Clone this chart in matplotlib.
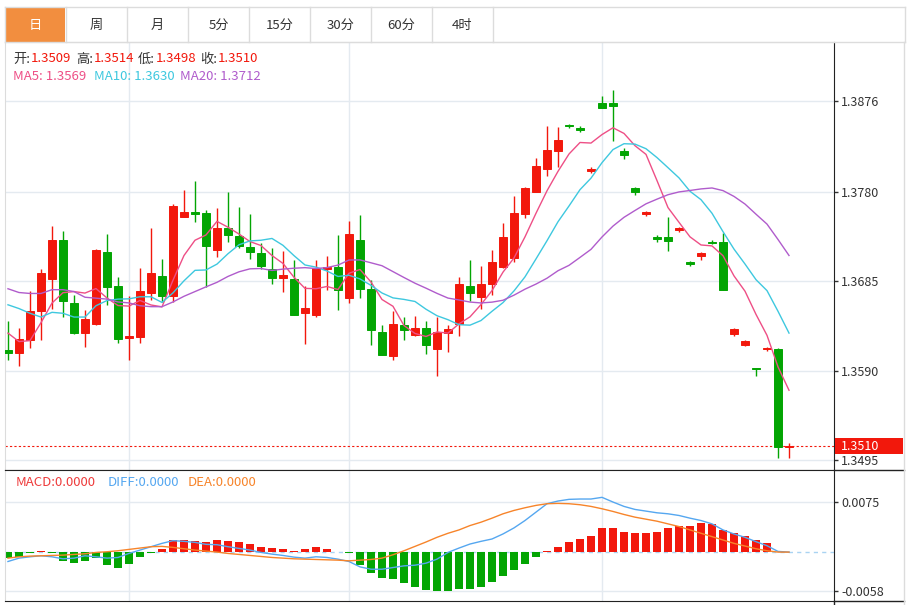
import matplotlib.pyplot as plt
import numpy as np
import pandas as pd
import matplotlib.transforms as mtransforms
from matplotlib.patches import Rectangle
from matplotlib.lines import Line2D

plt.rcParams['font.family'] = ['Noto Sans CJK SC', 'DejaVu Sans']

# daily candles
opens = [1.3612, 1.3609, 1.3623, 1.3653, 1.3687, 1.3729, 1.3662, 1.3630, 1.3640, 1.3716,
         1.3680, 1.3625, 1.3626, 1.3673, 1.3690, 1.3669, 1.3753, 1.3758, 1.3757, 1.3718,
         1.3741, 1.3733, 1.3721, 1.3715, 1.3698, 1.3688, 1.3687, 1.3651, 1.3649, 1.3698,
         1.3700, 1.3667, 1.3729, 1.3677, 1.3631, 1.3606, 1.3639, 1.3628, 1.3635, 1.3613,
         1.3630, 1.3640, 1.3680, 1.3668, 1.3682, 1.3700, 1.3710, 1.3756, 1.3780, 1.3804,
         1.3823, 1.3851, 1.3847, 1.3802, 1.3874, 1.3874, 1.3823, 1.3784, 1.3756, 1.3732,
         1.3732, 1.3739, 1.3705, 1.3712, 1.3727, 1.3727, 1.3629, 1.3617, 1.3593, 1.3613,
         1.3613, 1.3509]
highs = [1.3643, 1.3635, 1.3675, 1.3698, 1.3744, 1.3738, 1.3670, 1.3654, 1.3719, 1.3735,
         1.3689, 1.3669, 1.3699, 1.3741, 1.3709, 1.3767, 1.3782, 1.3791, 1.3760, 1.3763,
         1.3779, 1.3764, 1.3756, 1.3725, 1.3720, 1.3717, 1.3707, 1.3680, 1.3707, 1.3712,
         1.3734, 1.3749, 1.3755, 1.3686, 1.3639, 1.3653, 1.3647, 1.3648, 1.3643, 1.3647,
         1.3639, 1.3689, 1.3707, 1.3701, 1.3718, 1.3747, 1.3775, 1.3785, 1.3816, 1.3849,
         1.3848, 1.3852, 1.3849, 1.3806, 1.3881, 1.3888, 1.3826, 1.3785, 1.3759, 1.3734,
         1.3753, 1.3742, 1.3706, 1.3716, 1.3729, 1.3736, 1.3635, 1.3623, 1.3593, 1.3615,
         1.3614, 1.3514]
lows = [1.3601, 1.3595, 1.3614, 1.3623, 1.3656, 1.3647, 1.3629, 1.3615, 1.3639, 1.3660,
        1.3619, 1.3602, 1.3620, 1.3665, 1.3663, 1.3663, 1.3753, 1.3748, 1.3679, 1.3711,
        1.3727, 1.3720, 1.3708, 1.3698, 1.3682, 1.3674, 1.3649, 1.3618, 1.3647, 1.3676,
        1.3655, 1.3662, 1.3667, 1.3617, 1.3607, 1.3602, 1.3623, 1.3627, 1.3608, 1.3585,
        1.3610, 1.3627, 1.3664, 1.3656, 1.3670, 1.3699, 1.3705, 1.3752, 1.3780, 1.3797,
        1.3806, 1.3847, 1.3843, 1.3800, 1.3869, 1.3834, 1.3815, 1.3776, 1.3754, 1.3727,
        1.3717, 1.3737, 1.3701, 1.3707, 1.3724, 1.3676, 1.3627, 1.3616, 1.3585, 1.3611,
        1.3498, 1.3498]
closes = [1.3609, 1.3624, 1.3653, 1.3694, 1.3729, 1.3664, 1.3630, 1.3645, 1.3718, 1.3679,
          1.3624, 1.3627, 1.3675, 1.3694, 1.3669, 1.3765, 1.3758, 1.3756, 1.3722, 1.3741,
          1.3734, 1.3722, 1.3716, 1.3701, 1.3688, 1.3692, 1.3649, 1.3657, 1.3699, 1.3700,
          1.3676, 1.3735, 1.3677, 1.3633, 1.3607, 1.3640, 1.3633, 1.3635, 1.3617, 1.3631,
          1.3634, 1.3682, 1.3672, 1.3682, 1.3705, 1.3732, 1.3757, 1.3784, 1.3807, 1.3824,
          1.3835, 1.3849, 1.3845, 1.3804, 1.3869, 1.3871, 1.3819, 1.3780, 1.3758, 1.3730,
          1.3728, 1.3741, 1.3703, 1.3715, 1.3725, 1.3676, 1.3634, 1.3622, 1.3592, 1.3614,
          1.3509, 1.3510]

# MA values at the left edge (they depend on days before the window)
ma5_head = [1.3630, 1.3621, 1.3622, 1.3641]
ma10_head = [1.3660, 1.3656, 1.3651, 1.3647, 1.3652, 1.3651, 1.3647, 1.3647, 1.3659]
ma20_head = [1.3677, 1.3673, 1.3672, 1.3672, 1.3676, 1.3676, 1.3674, 1.3668, 1.3667, 1.3666,
             1.3663, 1.3662, 1.3659, 1.3658, 1.3658, 1.3663, 1.3669, 1.3674, 1.3679]

macd_bar = [-0.0009, -0.0008, -0.00015, 0.0001, -0.00015, -0.0013, -0.00165, -0.0013, -0.0009, -0.0019,
            -0.0023, -0.0017, -0.0007, -0.00015, 0.0004, 0.0018, 0.0018, 0.0017, 0.00155, 0.0018,
            0.0016, 0.00145, 0.00115, 0.0008, 0.00055, 0.0004, 0.0001, 0.0004, 0.0008, 0.00045,
            0.0, -0.00015, -0.0019, -0.00305, -0.0038, -0.00395, -0.00465, -0.0052, -0.0057, -0.0058,
            -0.0058, -0.00545, -0.00555, -0.00515, -0.0044, -0.00355, -0.00265, -0.0017, -0.0008, 0.00015,
            0.0008, 0.00155, 0.00195, 0.00235, 0.00355, 0.00355, 0.003, 0.0028, 0.0028, 0.003,
            0.00355, 0.00395, 0.00395, 0.00435, 0.0042, 0.00335, 0.0028, 0.00235, 0.0018, 0.0013,
            0.0, 0.0]
diff = [-0.0014, -0.0009, -0.0007, -0.00055, -0.0007, -0.0010, -0.0009, -0.00055, -0.0007, -0.0009,
        -0.0008, -0.0002, 0.0003, 0.0008, 0.0013, 0.0017, 0.0016, 0.00145, 0.00115, 0.0011,
        0.0008, 0.00055, 0.0003, -0.00005, -0.0003, -0.0005, -0.00075, -0.0009, -0.0007, -0.0008,
        -0.00105, -0.0014, -0.0022, -0.00255, -0.00255, -0.0023, -0.00205, -0.00195, -0.00165, -0.00105,
        -0.00005, 0.0006, 0.0012, 0.0016, 0.00195, 0.0027, 0.0036, 0.0047, 0.00595, 0.0072,
        0.0076, 0.00785, 0.0079, 0.0079, 0.00815, 0.00745, 0.0068, 0.00635, 0.0061, 0.00585,
        0.0057, 0.00545, 0.00505, 0.0047, 0.0042, 0.0033, 0.0027, 0.0022, 0.00155, 0.00095,
        0.0001, 0.0]
dea = [-0.0009, -0.0007, -0.0006, -0.00055, -0.0005, -0.00045, -0.00035, -0.00025, -0.00005, 0.00005,
       0.0002, 0.0004, 0.0006, 0.0008, 0.00085, 0.0007, 0.0005, 0.0003, 0.00015, 0.0,
       -0.0002, -0.00035, -0.0005, -0.00065, -0.0008, -0.0009, -0.001, -0.00105, -0.0011, -0.00115,
       -0.0012, -0.0013, -0.0012, -0.0011, -0.0009, -0.0004, 0.0002, 0.00085, 0.0015, 0.0022,
       0.0028, 0.0033, 0.00395, 0.00445, 0.00505, 0.0057, 0.0062, 0.0066, 0.00695, 0.0072,
       0.00725, 0.0072, 0.00705, 0.0068, 0.00645, 0.00605, 0.0056, 0.0052, 0.0049, 0.0046,
       0.0042, 0.0038, 0.0033, 0.0028, 0.0023, 0.0018, 0.0013, 0.0009, 0.0005, 0.0002,
       0.0, 0.0]

price_ticks = [1.3495, 1.3590, 1.3685, 1.3780, 1.3876]
macd_ticks = [-0.0058, 0.0075]
month_lines = [11, 31, 54]
tabs = ['日', '周', '月', '5分', '15分', '30分', '60分', '4时']

RED = '#f2180c'
GREEN = '#03a503'
GRID = '#e4eaf0'
BORDER = '#dcdcdc'

W, H = 912, 605
fig = plt.figure(figsize=(W / 100, H / 100), dpi=100)


def fx(x):
    return x / W


def fy(y):
    return 1 - y / H


def hline(x0, x1, y, color, lw=1):
    fig.add_artist(Line2D([fx(x0), fx(x1)], [fy(y), fy(y)], transform=fig.transFigure, color=color, lw=lw))


def vline(x, y0, y1, color, lw=1):
    fig.add_artist(Line2D([fx(x), fx(x)], [fy(y0), fy(y1)], transform=fig.transFigure, color=color, lw=lw))


# tab bar
edges = [5 + 61 * k for k in range(len(tabs) + 1)]
fig.add_artist(Rectangle((fx(5), fy(42)), fx(60), 35 / H, transform=fig.transFigure,
                         facecolor='#f28e3f', edgecolor='none'))
hline(5, 905, 7, BORDER)
hline(5, 905, 42, BORDER)
for e in edges:
    vline(e, 7, 42, BORDER)
vline(905, 7, 42, BORDER)
for k, t in enumerate(tabs):
    fig.text(fx(edges[k] + 30.5), fy(25), t, ha='center', va='center', fontsize=9.5,
             color='white' if k == 0 else '#333333')

# axes
ax = fig.add_axes([fx(5), fy(470), (834 - 5) / W, (470 - 42) / H])
axm = fig.add_axes([fx(5), fy(601), (834 - 5) / W, (601 - 470) / H])

x = np.arange(len(closes))
o = np.array(opens)
c = np.array(closes)
col = np.where(c >= o, RED, GREEN)

for a in (ax, axm):
    a.set_xlim(-0.27, 75.09)
    for m in month_lines:
        a.axvline(m, color=GRID, lw=1, zorder=0)
    a.set_xticks([])
    a.yaxis.tick_right()
    a.tick_params(axis='y', direction='out', length=3, width=1, colors='#333333',
                  labelsize=9, pad=2)
    a.spines['left'].set_color(BORDER)
    a.spines['right'].set_color('#222222')
    a.spines['bottom'].set_color('#222222')
ax.spines['top'].set_color(BORDER)
axm.spines['top'].set_color('#222222')

# price panel
ax.set_ylim(1.34849, 1.39385)
ax.set_yticks(price_ticks)
ax.set_yticklabels(['%.4f' % v for v in price_ticks])
for v in price_ticks:
    ax.axhline(v, color=GRID, lw=1, zorder=0)

ax.vlines(x, lows, highs, colors=col, lw=1, zorder=2)
ax.bar(x, np.abs(c - o), bottom=np.minimum(o, c), width=0.8, color=col,
       edgecolor=col, linewidth=0.7, zorder=3)


def moving_average(values, n, head):
    s = pd.Series(values).rolling(n).mean().to_numpy()
    s[:n - 1] = head
    return s


ma5 = moving_average(closes, 5, ma5_head)
ma10 = moving_average(closes, 10, ma10_head)
ma20 = moving_average(closes, 20, ma20_head)
ax.plot(x, ma5, color='#ee4f86', lw=1, zorder=4)
ax.plot(x, ma10, color='#3ec8df', lw=1, zorder=4)
ax.plot(x, ma20, color='#b05ccc', lw=1, zorder=4)

last = closes[-1]
ax.axhline(last, color=RED, lw=0.8, ls=(0, (2, 2)), zorder=1)
trans = mtransforms.blended_transform_factory(fig.transFigure, ax.transData)
ax.add_patch(Rectangle((fx(835), last - 0.00085), (903 - 835) / W, 0.0017, transform=trans,
                       facecolor=RED, edgecolor='none', clip_on=False, zorder=5))
ax.text(fx(841), last, '%.4f' % last, transform=trans, color='white', fontsize=9,
        va='center', ha='left', clip_on=False, zorder=6)

# info rows
info = [('开:', opens[-1], 13), ('高:', highs[-1], 76), ('低:', lows[-1], 138), ('收:', last, 200)]
for lab, val, px in info:
    t = fig.text(fx(px), fy(59), lab, fontsize=9.5, color='#333333', va='center')
    fig.text(fx(px + 18), fy(59), '%.4f' % val, fontsize=9.5, color=RED, va='center')
fig.text(fx(13), fy(77), 'MA5: %.4f' % ma5[-1], fontsize=9.5, color='#ee4f86', va='center')
fig.text(fx(94), fy(77), 'MA10: %.4f' % ma10[-1], fontsize=9.5, color='#3ec8df', va='center')
fig.text(fx(180), fy(77), 'MA20: %.4f' % ma20[-1], fontsize=9.5, color='#b05ccc', va='center')

# MACD panel
axm.set_ylim(-0.00728, 0.01222)
axm.set_yticks(macd_ticks)
axm.set_yticklabels(['%.4f' % v for v in macd_ticks])
for v in macd_ticks:
    axm.axhline(v, color=GRID, lw=1, zorder=0)
axm.axhline(0, color='#a9d3f2', lw=1, ls=(0, (3, 3)), zorder=1)
mb = np.array(macd_bar)
axm.bar(x, mb, width=0.8, color=np.where(mb >= 0, RED, GREEN), zorder=2)
axm.plot(x, diff, color='#55a7f0', lw=1, zorder=3)
axm.plot(x, dea, color='#f7842a', lw=1, zorder=3)

fig.text(fx(16), fy(483), 'MACD:%.4f' % 0, fontsize=9.5, color='#ee3b3b', va='center')
fig.text(fx(108), fy(483), 'DIFF:%.4f' % 0, fontsize=9.5, color='#55a7f0', va='center')
fig.text(fx(188), fy(483), 'DEA:%.4f' % 0, fontsize=9.5, color='#f7842a', va='center')

# outer frame bits
hline(834, 904, 470, '#222222')
hline(834, 904, 601, '#222222')
vline(904, 42, 605, BORDER)
vline(834, 601, 605, '#222222')

fig.savefig('out.png', dpi=100)
